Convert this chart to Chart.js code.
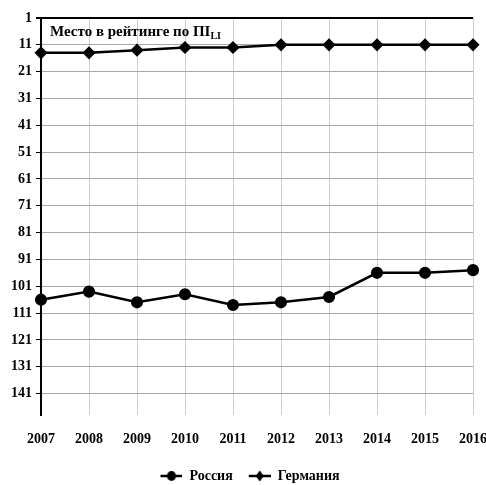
<!DOCTYPE html>
<html>
<head>
<meta charset="utf-8">
<script src="https://cdn.jsdelivr.net/npm/chart.js@4"></script>
<style>
    html, body { margin: 0; padding: 0; background: #fff; }
    #wrap { width: 486px; height: 485px; }
</style>
</head>
<body>
<div id="wrap"><canvas id="rank_chart" width="486" height="485"></canvas></div>
<script>

let years = ['2007', '2008', '2009', '2010', '2011', '2012', '2013', '2014', '2015', '2016'];
let russia_rank = [106, 103, 107, 104, 108, 107, 105, 96, 96, 95];
let germany_rank = [14, 14, 13, 12, 12, 11, 11, 11, 11, 11];
let y_ticks = [1, 11, 21, 31, 41, 51, 61, 71, 81, 91, 101, 111, 121, 131, 141];

let labelFont = { family: 'Liberation Serif', size: 14, weight: 'bold' };

// small legend picture: transparent gap, then line with the marker in the middle
function legendIcon(style){
    let c = document.createElement('canvas');
    c.width = 36;
    c.height = 12;
    let ctx = c.getContext('2d');
    ctx.strokeStyle = '#000';
    ctx.lineWidth = 2.5;
    ctx.beginPath();
    ctx.moveTo(14, 6);
    ctx.lineTo(36, 6);
    ctx.stroke();
    ctx.fillStyle = '#000';
    ctx.beginPath();
    if(style === 'circle'){
        ctx.ellipse(25, 6, 4.5, 5, 0, 0, Math.PI * 2);
    } else {
        ctx.moveTo(25, 0.5);
        ctx.lineTo(29, 6);
        ctx.lineTo(25, 11.5);
        ctx.lineTo(21, 6);
        ctx.closePath();
    }
    ctx.fill();
    return c;
}

let titlePlugin = {
    id: 'innerTitle',
    afterDraw(chart){
        let ctx = chart.ctx;
        let area = chart.chartArea;
        ctx.save();
        ctx.fillStyle = '#000';
        ctx.textBaseline = 'alphabetic';
        ctx.font = 'bold 15px "Liberation Serif"';
        let text = 'Место в рейтинге по ПI';
        let x = area.left + 9;
        let y = area.top + 18;
        ctx.fillText(text, x, y);
        let w = ctx.measureText(text).width;
        ctx.font = 'bold 10px "Liberation Serif"';
        ctx.fillText('LI', x + w, y + 3);
        ctx.restore();
    }
};

let chart = new Chart(rank_chart, {

    type: 'line',
    data: {
        labels: years,
        datasets: [
            {
                label: 'Россия',
                data: russia_rank,
                borderColor: '#000',
                backgroundColor: '#000',
                borderWidth: 2.5,
                pointStyle: 'circle',
                pointRadius: 4.8,
                pointHoverRadius: 4.8,
                tension: 0
            },
            {
                label: 'Германия',
                data: germany_rank,
                borderColor: '#000',
                backgroundColor: '#000',
                borderWidth: 2.5,
                pointStyle: 'rectRot',
                pointRadius: 4.8,
                pointHoverRadius: 4.8,
                tension: 0
            }
        ]
    },
    options: {
        responsive: false,
        animation: false,
        layout: { padding: { top: 18, right: 0, left: 0, bottom: -8 } },
        plugins: {
            tooltip: { enabled: false },
            legend: {
                position: 'bottom',
                labels: {
                    color: '#000',
                    font: labelFont,
                    usePointStyle: true,
                    pointStyleWidth: 36,
                    padding: 2,
                    generateLabels(chart){
                        return chart.data.datasets.map((ds, i) => ({
                            text: ds.label,
                            pointStyle: legendIcon(ds.pointStyle),
                            datasetIndex: i,
                            hidden: false,
                            fontColor: '#000',
                            lineWidth: 0
                        }));
                    }
                }
            }
        },
        scales: {
            x: {
                offset: false,
                grid: { color: '#cfcfcf', lineWidth: 1, tickLength: 0 },
                border: { display: false },
                ticks: { color: '#000', font: labelFont, padding: 16, maxRotation: 0 },
                afterFit(scale){
                    scale.height = 52;
                    scale.paddingRight = 13;
                    scale.paddingLeft = 0;
                }
            },
            y: {
                reverse: true,
                min: 1,
                max: 149,
                afterBuildTicks(scale){
                    scale.ticks = y_ticks.map(v => ({ value: v }));
                },
                grid: {
                    color: ctx => ctx.tick && ctx.tick.value === 1 ? '#000' : '#a8a8a8',
                    lineWidth: ctx => ctx.tick && ctx.tick.value === 1 ? 2 : 1,
                    tickLength: 5,
                    tickColor: '#000'
                },
                border: { display: true, color: '#000', width: 2 },
                ticks: { color: '#000', font: labelFont, padding: 4 },
                afterFit(scale){ scale.width = 41; }
            }
        }
    },
    plugins: [titlePlugin]

});

</script>
</body>
</html>
